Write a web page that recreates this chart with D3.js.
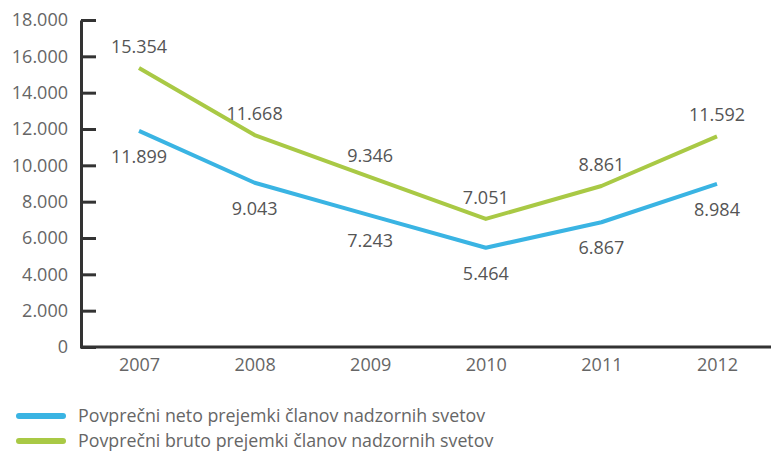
<!DOCTYPE html>
<html>
<head>
<meta charset="utf-8">
<script src="https://cdn.jsdelivr.net/npm/d3@7"></script>
<style>
  body { margin: 0; background: #fff; }
  text { font-family: "Open Sans", sans-serif; }
</style>
</head>
<body>
<div id="chart"></div>
<script>
const years = ["2007", "2008", "2009", "2010", "2011", "2012"];
const neto = [11899, 9043, 7243, 5464, 6867, 8984];
const bruto = [15354, 11668, 9346, 7051, 8861, 11592];
const yTicks = [0, 2000, 4000, 6000, 8000, 10000, 12000, 14000, 16000, 18000];
const legendLabels = [
  "Povprečni neto prejemki članov nadzornih svetov",
  "Povprečni bruto prejemki članov nadzornih svetov"
];

const width = 771;
const height = 454;

const loc = d3.formatLocale({ decimal: ",", thousands: ".", grouping: [3], currency: ["", " €"] });
const fmt = loc.format(",d");

const svg = d3.select("#chart").append("svg")
  .attr("width", width)
  .attr("height", height);

const x = d3.scalePoint()
  .domain(years)
  .range([139, 717]);

const y = d3.scaleLinear()
  .domain([0, 18000])
  .range([347, 20]);

const axisColor = "#333";
const labelColor = "#666";

// y axis, ticks point inward
const yAxis = svg.append("g")
  .attr("transform", "translate(81,0)")
  .call(d3.axisLeft(y).tickValues(yTicks).tickFormat(fmt).tickSize(-15).tickSizeOuter(0).tickPadding(13));
yAxis.select(".domain").attr("stroke", axisColor).attr("stroke-width", 3);
yAxis.selectAll(".tick line").attr("stroke", axisColor).attr("stroke-width", 3);
yAxis.selectAll(".tick text")
  .style("font-size", "18px")
  .style("font-family", "Open Sans")
  .attr("fill", labelColor);

// x axis
const xAxis = svg.append("g")
  .attr("transform", "translate(0,347)")
  .call(d3.axisBottom(x).tickSize(0).tickPadding(11));
xAxis.select(".domain").remove();
xAxis.selectAll(".tick text")
  .style("font-size", "18px")
  .style("font-family", "Open Sans")
  .attr("fill", labelColor);
xAxis.append("line")
  .attr("x1", 80)
  .attr("x2", width)
  .attr("stroke", axisColor)
  .attr("stroke-width", 3);

const series = [
  { name: legendLabels[0], values: neto, color: "#3ab4e3", dy: 32 },
  { name: legendLabels[1], values: bruto, color: "#a9c945", dy: -15 }
];

const line = d3.line()
  .x((d, i) => x(years[i]))
  .y(d => y(d));

series.forEach(s => {
  svg.append("path")
    .datum(s.values)
    .attr("fill", "none")
    .attr("stroke", s.color)
    .attr("stroke-width", 4)
    .attr("stroke-linejoin", "round")
    .attr("d", line);

  svg.selectAll(null)
    .data(s.values)
    .enter().append("text")
    .attr("x", (d, i) => x(years[i]))
    .attr("y", d => y(d) + s.dy)
    .attr("text-anchor", "middle")
    .style("font-size", "18px")
    .attr("fill", "#555")
    .text(d => fmt(d));
});

// legend
const legend = svg.append("g").attr("transform", "translate(19,416)");
series.forEach((s, i) => {
  const row = legend.append("g").attr("transform", `translate(0,${i * 25})`);
  row.append("line")
    .attr("x1", 0)
    .attr("x2", 44)
    .attr("stroke", s.color)
    .attr("stroke-width", 6)
    .attr("stroke-linecap", "round");
  row.append("text")
    .attr("x", 59)
    .attr("dy", "0.35em")
    .style("font-size", "17.8px")
    .attr("fill", labelColor)
    .text(s.name);
});
</script>
</body>
</html>
